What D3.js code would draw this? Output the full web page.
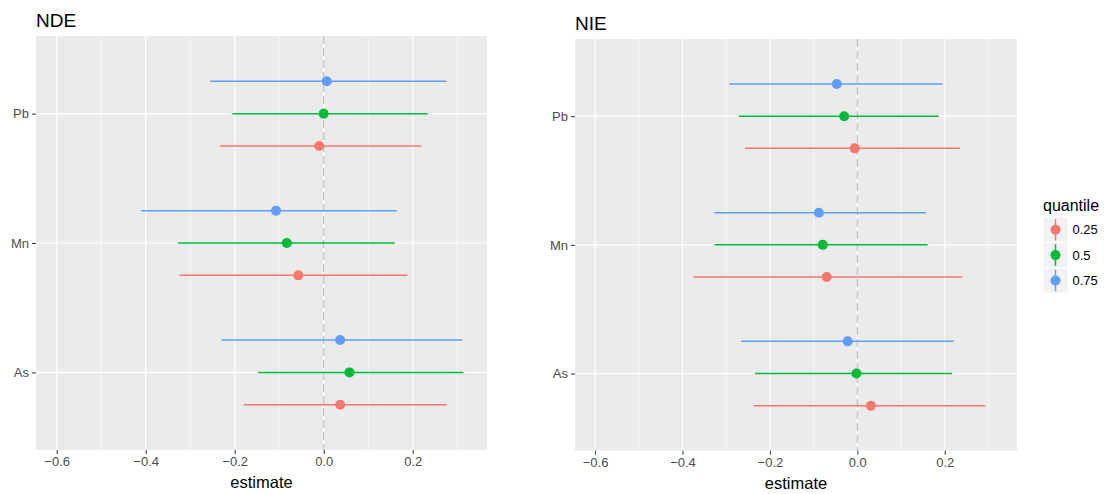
<!DOCTYPE html>
<html lang="en">
<head>
<meta charset="utf-8">
<title>NDE / NIE estimates</title>
<script src="https://d3js.org/d3.v7.min.js"></script>
<style>
  body { margin: 0; background: #fff; }
  text { font-family: "Liberation Sans", Arial, Helvetica, sans-serif; }
</style>
</head>
<body>
<script>
// categories and groups
var elements = ["As", "Mn", "Pb"];
var quantiles = ["0.25", "0.5", "0.75"];
var colors = ["#F8766D", "#00BA38", "#619CFF"];
var xTicks = [-0.6, -0.4, -0.2, 0, 0.2];
var xMinor = [-0.5, -0.3, -0.1, 0.1, 0.3];

// rows = quantiles, columns = elements (As, Mn, Pb)
var ndeEstimate = [[0.037, -0.057, -0.010], [0.058, -0.083, 0.000], [0.037, -0.107, 0.007]];
var ndeLower    = [[-0.180, -0.324, -0.233], [-0.147, -0.327, -0.205], [-0.230, -0.410, -0.255]];
var ndeUpper    = [[0.276, 0.188, 0.219], [0.314, 0.160, 0.234], [0.311, 0.164, 0.276]];

var nieEstimate = [[0.031, -0.070, -0.006], [-0.002, -0.079, -0.030], [-0.022, -0.088, -0.047]];
var nieLower    = [[-0.237, -0.375, -0.257], [-0.234, -0.327, -0.271], [-0.266, -0.327, -0.293]];
var nieUpper    = [[0.293, 0.240, 0.235], [0.217, 0.161, 0.186], [0.221, 0.157, 0.195]];

var w = 1104, h = 494;
var svg = d3.select("body").append("svg").attr("width", w).attr("height", h);

function panel(opt) {
  var x = d3.scaleLinear().domain(opt.xDomain).range([opt.left, opt.right]);
  var y = d3.scalePoint().domain(elements).range([opt.bottom, opt.top]).padding(0.6);
  var step = y.step();
  var g = svg.append("g");

  // background
  g.append("rect")
    .attr("x", opt.left).attr("y", opt.top)
    .attr("width", opt.right - opt.left).attr("height", opt.bottom - opt.top)
    .attr("fill", "#EBEBEB");

  // grid lines
  g.selectAll(".minor").data(xMinor).enter().append("line")
    .attr("x1", function(d){ return x(d); }).attr("x2", function(d){ return x(d); })
    .attr("y1", opt.top).attr("y2", opt.bottom)
    .attr("stroke", "#fff").attr("stroke-width", 0.6);
  g.selectAll(".major").data(xTicks).enter().append("line")
    .attr("x1", function(d){ return x(d); }).attr("x2", function(d){ return x(d); })
    .attr("y1", opt.top).attr("y2", opt.bottom)
    .attr("stroke", "#fff").attr("stroke-width", 1.2);
  g.selectAll(".hgrid").data(elements).enter().append("line")
    .attr("x1", opt.left).attr("x2", opt.right)
    .attr("y1", function(d){ return y(d); }).attr("y2", function(d){ return y(d); })
    .attr("stroke", "#fff").attr("stroke-width", 1.2);

  // zero reference line
  g.append("line")
    .attr("x1", x(0)).attr("x2", x(0)).attr("y1", opt.top).attr("y2", opt.bottom)
    .attr("stroke", "#BEBEBE").attr("stroke-width", 1.2).attr("stroke-dasharray", "8,4");

  // intervals and points
  quantiles.forEach(function(q, qi) {
    var rows = elements.map(function(e, ei) {
      return { e: e, est: opt.est[qi][ei], lo: opt.lo[qi][ei], hi: opt.hi[qi][ei] };
    });
    var dy = (1 - qi) * 0.25 * step;
    g.selectAll(".ci" + qi).data(rows).enter().append("line")
      .attr("x1", function(d){ return x(d.lo); }).attr("x2", function(d){ return x(d.hi); })
      .attr("y1", function(d){ return y(d.e) + dy; }).attr("y2", function(d){ return y(d.e) + dy; })
      .attr("stroke", colors[qi]).attr("stroke-width", 1.5);
    g.selectAll(".pt" + qi).data(rows).enter().append("circle")
      .attr("cx", function(d){ return x(d.est); })
      .attr("cy", function(d){ return y(d.e) + dy; })
      .attr("r", 5).attr("fill", colors[qi]);
  });

  // x axis
  var xa = g.append("g").attr("transform", "translate(0," + opt.bottom + ")")
    .call(d3.axisBottom(x).tickValues(xTicks).tickSize(4).tickPadding(3)
      .tickFormat(function(d){ return d === 0 ? "0.0" : d3.format(".1f")(d).replace("-", "\u2212"); }));
  xa.select(".domain").remove();
  xa.selectAll("line").attr("stroke", "#333");
  xa.selectAll("text").attr("fill", "#4D4D4D").style("font-size", "13px");

  // y axis
  var ya = g.append("g").attr("transform", "translate(" + opt.left + ",0)")
    .call(d3.axisLeft(y).tickSize(4).tickPadding(3));
  ya.select(".domain").remove();
  ya.selectAll("line").attr("stroke", "#333");
  ya.selectAll("text").attr("fill", "#4D4D4D").style("font-size", "13px");

  // titles
  g.append("text").attr("x", opt.left).attr("y", opt.top - 9.5)
    .style("font-size", "19px").attr("fill", "#000").text(opt.title);
  g.append("text").attr("x", (opt.left + opt.right) / 2).attr("y", opt.bottom + 38)
    .attr("text-anchor", "middle").style("font-size", "16.5px").attr("fill", "#000").text("estimate");
}

panel({ title: "NDE", left: 36, right: 487, top: 36, bottom: 450,
        xDomain: [-0.6465, 0.367], est: ndeEstimate, lo: ndeLower, hi: ndeUpper });
panel({ title: "NIE", left: 575, right: 1017, top: 39, bottom: 450.7,
        xDomain: [-0.646, 0.3654], est: nieEstimate, lo: nieLower, hi: nieUpper });

// legend
var leg = svg.append("g").attr("transform", "translate(1043,0)");
leg.append("text").attr("x", 0).attr("y", 210.5).style("font-size", "16px").attr("fill", "#000").text("quantile");
var keys = leg.selectAll(".key").data(quantiles).enter().append("g")
  .attr("transform", function(d, i){ return "translate(0," + (217 + i * 25.4) + ")"; });
keys.append("rect").attr("width", 25).attr("height", 25.4)
  .attr("fill", "#F2F2F2").attr("stroke", "#fff").attr("stroke-width", 1);
keys.append("line").attr("x1", 12.5).attr("x2", 12.5).attr("y1", 2).attr("y2", 23.4)
  .attr("stroke", function(d, i){ return colors[i]; }).attr("stroke-width", 1.5);
keys.append("circle").attr("cx", 12.5).attr("cy", 12.7).attr("r", 5)
  .attr("fill", function(d, i){ return colors[i]; });
keys.append("text").attr("x", 29.5).attr("y", 12.7).attr("dy", "0.35em")
  .style("font-size", "13px").attr("fill", "#000").text(function(d){ return d; });
</script>
</body>
</html>
